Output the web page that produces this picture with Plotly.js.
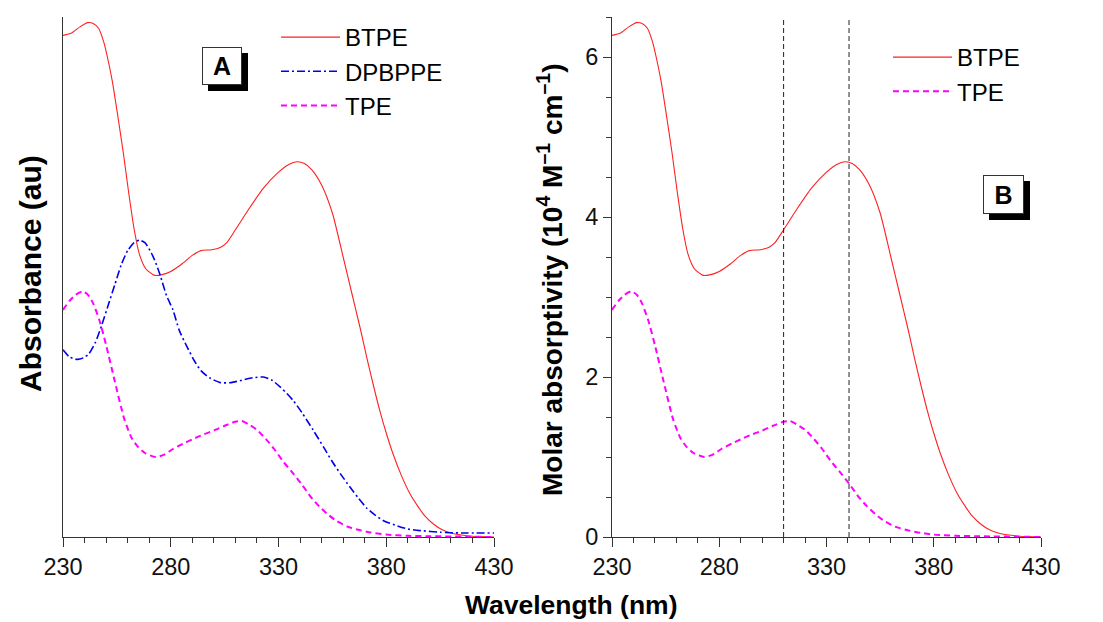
<!DOCTYPE html>
<html>
<head>
<meta charset="utf-8">
<script src="https://cdn.plot.ly/plotly-3.0.1.min.js"></script>
<style>html,body{margin:0;padding:0;background:#fff;}#chart{width:1103px;height:622px;}</style>
</head>
<body>
<div id="chart"></div>
<script>
// ---- Data ----
const btpeWl = [230,234,238,241.5,244,246.5,249,251,253,255.5,258,260.5,263,265.5,268.5,272.5,276,280,285,290,294,299,303,306,310,316,323,330,335,338.5,342,345.5,350,355,360,364,368,371,374,377,380,383,387,391,395,398,402,406,410,415,420,430];
const btpeVal = [6.27,6.30,6.38,6.43,6.42,6.36,6.18,5.95,5.68,5.25,4.80,4.30,3.85,3.53,3.35,3.27,3.28,3.32,3.41,3.52,3.58,3.59,3.62,3.68,3.84,4.09,4.36,4.56,4.66,4.69,4.67,4.59,4.40,4.05,3.50,3.05,2.60,2.24,1.90,1.58,1.30,1.05,0.77,0.54,0.37,0.26,0.16,0.09,0.05,0.025,0.01,0.0];

const tpeWl = [230,233,236,239,241.5,244,247,250,254,258.5,262,265,268,273,277,281,286,290,295,300,305,310,313,316,320,324,328,332,336,341,345,349,353,357,362,367,372,380,390,400,430];
const tpeVal = [2.84,2.95,3.03,3.07,3.03,2.92,2.70,2.40,1.95,1.47,1.23,1.12,1.05,1.00,1.03,1.10,1.17,1.22,1.28,1.33,1.39,1.44,1.45,1.41,1.34,1.23,1.10,0.95,0.82,0.65,0.50,0.38,0.28,0.20,0.13,0.09,0.06,0.03,0.015,0.01,0.0];

const dpbppeWl = [230,233,236.5,239.5,242,245,248,251,254,257,260,263,265.5,268,271,273,275,278,281,284,287.5,291,294,298,303,308,313,318,323,327,331,334,337,341,346,351,355,359,363,367,371,375,379,384,390,396,405,415,430];
const dpbppeVal = [2.34,2.25,2.22,2.24,2.29,2.43,2.65,2.90,3.15,3.40,3.58,3.68,3.71,3.68,3.55,3.43,3.28,3.02,2.84,2.58,2.38,2.20,2.08,1.99,1.93,1.93,1.96,1.99,2.00,1.96,1.87,1.79,1.70,1.55,1.34,1.12,0.94,0.78,0.63,0.49,0.36,0.27,0.20,0.15,0.10,0.08,0.06,0.05,0.05];

const markerWavelengths = [310, 340.5];
const xTickVals = [230, 280, 330, 380, 430];
const yTickVals = [0, 2, 4, 6];
const seriesNames = ['BTPE', 'DPBPPE', 'TPE'];
const panelLabels = ['A', 'B'];

// ---- Helpers ----
const W = 1103, H = 622;
const px = v => v / W;
const py = v => 1 - v / H;
const FONT = 'Liberation Sans, Arial, Helvetica, sans-serif';

const red = '#ff2020', blue = '#0000ee', magenta = '#ff00ff';

const traces = [
  {x: btpeWl, y: btpeVal, name: seriesNames[0], xaxis: 'x', yaxis: 'y', mode: 'lines', line: {color: red, width: 1.1, shape: 'spline', smoothing: 0.6}, legend: 'legend'},
  {x: dpbppeWl, y: dpbppeVal, name: seriesNames[1], xaxis: 'x', yaxis: 'y', mode: 'lines', line: {color: blue, width: 1.6, dash: '8px,3px,2px,3px', shape: 'spline', smoothing: 0.6}, legend: 'legend'},
  {x: tpeWl, y: tpeVal, name: seriesNames[2], xaxis: 'x', yaxis: 'y', mode: 'lines', line: {color: magenta, width: 2, dash: '6px,4px', shape: 'spline', smoothing: 0.6}, legend: 'legend'},
  {x: btpeWl, y: btpeVal, name: seriesNames[0], xaxis: 'x2', yaxis: 'y2', mode: 'lines', line: {color: red, width: 1.1, shape: 'spline', smoothing: 0.6}, legend: 'legend2'},
  {x: tpeWl, y: tpeVal, name: seriesNames[2], xaxis: 'x2', yaxis: 'y2', mode: 'lines', line: {color: magenta, width: 2, dash: '6px,4px', shape: 'spline', smoothing: 0.6}, legend: 'legend2'}
];

const axisCommon = {
  showline: true, linecolor: '#333', linewidth: 1, showgrid: false, zeroline: false,
  tickfont: {family: FONT, size: 23.5, color: '#111'}, tickcolor: '#333', tickwidth: 1
};
const xCommon = Object.assign({}, axisCommon, {
  range: [230, 430], tickmode: 'array', tickvals: xTickVals, ticks: 'outside', ticklen: 9,
  minor: {tick0: 230, dtick: 10, ticks: 'outside', ticklen: 5, tickcolor: '#333', showgrid: false}
});
const yDomain = [py(537), py(17)];

const shapes = markerWavelengths.map(w => ({
  type: 'line', xref: 'x2', yref: 'y2', x0: w, x1: w, y0: 0, y1: 6.5,
  line: {color: '#222', width: 1, dash: '5px,3px'}
}));
// shadow boxes behind panel labels
shapes.push({type: 'rect', xref: 'paper', yref: 'paper', x0: px(208), x1: px(248), y0: py(91), y1: py(53), fillcolor: '#000', line: {width: 0}, layer: 'above'});
shapes.push({type: 'rect', xref: 'paper', yref: 'paper', x0: px(989), x1: px(1030), y0: py(220), y1: py(181), fillcolor: '#000', line: {width: 0}, layer: 'above'});

const labelBox = (t, cx, cy, w, h) => ({
  text: '<b>' + t + '</b>', xref: 'paper', yref: 'paper', x: px(cx), y: py(cy),
  xanchor: 'center', yanchor: 'middle', showarrow: false, width: w, height: h,
  bgcolor: '#fff', bordercolor: '#333', borderwidth: 1, borderpad: 0,
  font: {family: FONT, size: 25, color: '#000'}
});

const annotations = [
  labelBox(panelLabels[0], 222, 66, 38, 36),
  labelBox(panelLabels[1], 1003.5, 194.5, 39, 37),
  {text: '<b>Wavelength (nm)</b>', xref: 'paper', yref: 'paper', x: px(571), y: py(605), xanchor: 'center', yanchor: 'middle', showarrow: false, font: {family: FONT, size: 26.5, color: '#000'}},
  {text: '<b>Absorbance (au)</b>', xref: 'paper', yref: 'paper', x: px(30), y: py(274), xanchor: 'center', yanchor: 'middle', textangle: -90, showarrow: false, font: {family: FONT, size: 30, color: '#000'}},
  {text: '<b>Molar absorptivity (10<sup>4</sup> M<sup>\u20131</sup> cm<sup>\u20131</sup>)</b>', xref: 'paper', yref: 'paper', x: px(550), y: py(280), xanchor: 'center', yanchor: 'middle', textangle: -90, showarrow: false, font: {family: FONT, size: 28, color: '#000'}}
];

const legendCommon = {
  font: {family: FONT, size: 24, color: '#000'}, bgcolor: 'rgba(0,0,0,0)', borderwidth: 0,
  xanchor: 'left', yanchor: 'top', itemwidth: 59, tracegroupgap: 0
};

const layout = {
  width: W, height: H,
  margin: {l: 0, r: 0, t: 0, b: 0},
  paper_bgcolor: '#fff', plot_bgcolor: 'rgba(0,0,0,0)',
  font: {family: FONT, size: 22, color: '#000'},
  showlegend: true,
  xaxis: Object.assign({}, xCommon, {domain: [px(63), px(494)], anchor: 'y'}),
  yaxis: Object.assign({}, axisCommon, {domain: yDomain, range: [0, 6.5], anchor: 'x', showticklabels: false, ticks: ''}),
  xaxis2: Object.assign({}, xCommon, {domain: [px(612), px(1041)], anchor: 'y2'}),
  yaxis2: Object.assign({}, axisCommon, {domain: yDomain, range: [0, 6.5], anchor: 'x2', tickmode: 'array', tickvals: yTickVals, ticks: 'outside', ticklen: 8,
    minor: {tick0: 0, dtick: 0.5, ticks: 'outside', ticklen: 5, tickcolor: '#333', showgrid: false}}),
  legend: Object.assign({}, legendCommon, {x: px(276), y: py(15)}),
  legend2: Object.assign({}, legendCommon, {x: px(888), y: py(35)}),
  shapes: shapes,
  annotations: annotations
};

Plotly.newPlot('chart', traces, layout, {displayModeBar: false, staticPlot: true});
</script>
</body>
</html>
